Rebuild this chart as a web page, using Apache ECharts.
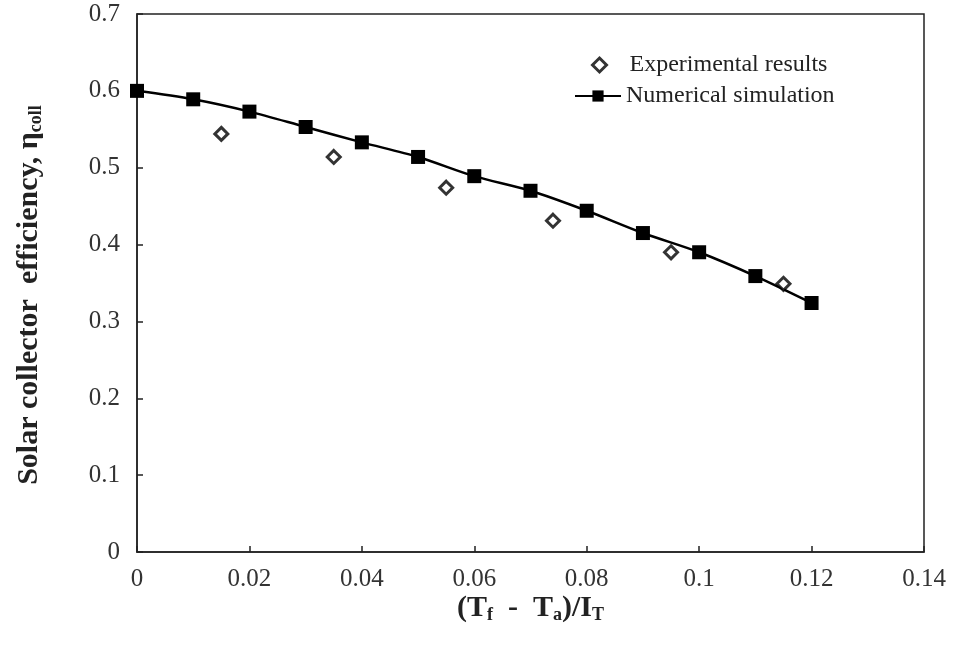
<!DOCTYPE html>
<html>
<head>
<meta charset="utf-8">
<script src="https://cdn.jsdelivr.net/npm/echarts@6/dist/echarts.min.js"></script>
<style>
  html, body { margin: 0; padding: 0; background: #fff; }
  #chart { width: 954px; height: 645px; }
</style>
</head>
<body>
<div id="chart"></div>
<script>
// Collector efficiency versus reduced temperature
const experimentalX = [0.015, 0.035, 0.055, 0.074, 0.095, 0.115];
const experimentalY = [0.544, 0.514, 0.474, 0.431, 0.390, 0.349];

const simulationX = [0, 0.01, 0.02, 0.03, 0.04, 0.05, 0.06, 0.07, 0.08, 0.09, 0.10, 0.11, 0.12];
const simulationY = [0.600, 0.589, 0.573, 0.553, 0.533, 0.514, 0.489, 0.470, 0.444, 0.415, 0.390, 0.359, 0.324];

const xTicks = [0, 0.02, 0.04, 0.06, 0.08, 0.1, 0.12, 0.14];
const yTicks = [0, 0.1, 0.2, 0.3, 0.4, 0.5, 0.6, 0.7];

const serif = '"Liberation Serif", "Times New Roman", serif';
const legendText = { fontFamily: serif, fontSize: 24, color: '#222' };
const titleRich = {
  b: { fontFamily: serif, fontSize: 30, fontWeight: 'bold', color: '#222' },
  sub: { fontFamily: serif, fontSize: 18, fontWeight: 'bold', color: '#222', padding: [13, 0, 0, 0] }
};

const chart = echarts.init(document.getElementById('chart'));
chart.setOption({
  animation: false,
  backgroundColor: '#ffffff',
  grid: {
    left: 137, top: 14, right: 30, bottom: 93,
    show: true, borderColor: '#222', borderWidth: 1.5, backgroundColor: 'transparent'
  },
  legend: [
    {
      left: 591, top: 53, padding: 0,
      itemWidth: 14, itemHeight: 14,
      textStyle: Object.assign({ padding: [0, 0, 0, 18] }, legendText),
      data: [{ name: 'Experimental results', icon: 'diamond',
               itemStyle: { color: '#fff', borderColor: '#000', borderWidth: 3 } }]
    },
    {
      left: 574, top: 84, padding: 0,
      itemWidth: 46, itemHeight: 14,
      textStyle: legendText,
      data: [{ name: 'Numerical simulation' }]
    }
  ],
  xAxis: {
    type: 'value',
    min: xTicks[0], max: xTicks[xTicks.length - 1], interval: 0.02,
    name: '{b|(T}{sub|f}{b|  -  T}{sub|a}{b|)/I}{sub|T}',
    nameLocation: 'middle', nameGap: 41, nameMoveOverlap: false,
    nameTextStyle: { rich: titleRich },
    axisLine: { show: true, lineStyle: { color: '#222', width: 1.5 } },
    axisTick: { show: true, inside: true, length: 6, lineStyle: { color: '#222', width: 1.5 } },
    axisLabel: {
      fontFamily: serif, fontSize: 25, color: '#333', margin: 15,
      formatter: v => String(parseFloat(v.toFixed(2)))
    },
    splitLine: { show: false }
  },
  yAxis: {
    type: 'value',
    min: yTicks[0], max: yTicks[yTicks.length - 1], interval: 0.1,
    name: '{b|Solar collector  efficiency, \u03b7}{sub|coll}',
    nameLocation: 'middle', nameGap: 92, nameMoveOverlap: false,
    nameTextStyle: { rich: titleRich, padding: [0, 24, 0, 0] },
    axisLine: { show: true, lineStyle: { color: '#222', width: 1.5 } },
    axisTick: { show: true, inside: true, length: 6, lineStyle: { color: '#222', width: 1.5 } },
    axisLabel: {
      fontFamily: serif, fontSize: 25, color: '#333', margin: 17,
      formatter: v => String(parseFloat(v.toFixed(1)))
    },
    splitLine: { show: false }
  },
  series: [
    {
      name: 'Experimental results',
      type: 'scatter',
      symbol: 'diamond',
      symbolSize: 13,
      itemStyle: { color: '#fff', borderColor: '#000', borderWidth: 3 },
      data: experimentalX.map((x, i) => [x, experimentalY[i]]),
      z: 3
    },
    {
      name: 'Numerical simulation',
      type: 'line',
      smooth: 0.3,
      symbol: 'rect',
      symbolSize: 14,
      showAllSymbol: true,
      lineStyle: { color: '#000', width: 2.5 },
      itemStyle: { color: '#000' },
      data: simulationX.map((x, i) => [x, simulationY[i]]),
      z: 2
    }
  ]
});
</script>
</body>
</html>
